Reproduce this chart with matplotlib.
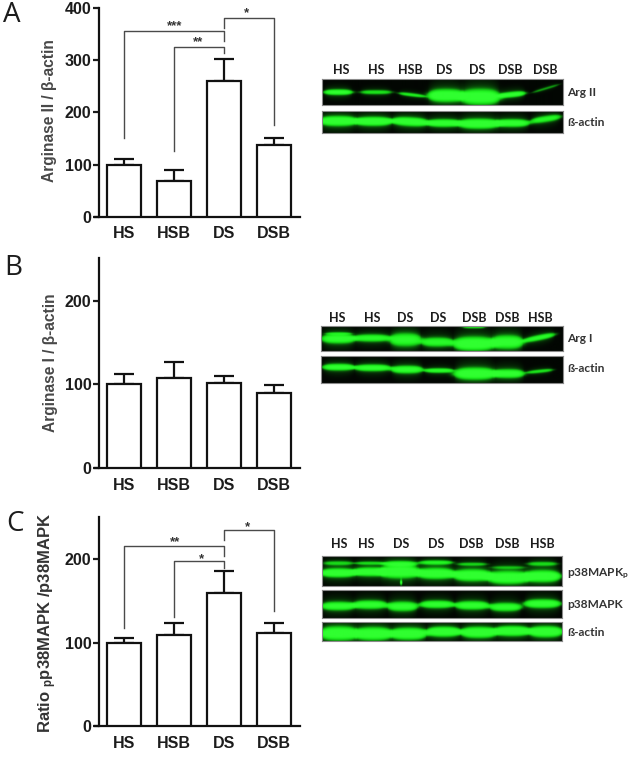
import numpy as np
import matplotlib
matplotlib.use("Agg")
import matplotlib.pyplot as plt
from matplotlib.colors import LinearSegmentedColormap

W, H = 630, 781
plt.rcParams['font.family'] = ['Liberation Sans', 'DejaVu Sans']
plt.rcParams['mathtext.default'] = 'regular'

# ---- bar data ----
groups = ['HS', 'HSB', 'DS', 'DSB']
a_means = [100, 68, 260, 138]
a_tops = [110, 89, 303, 151]
b_means = [100, 107, 102, 90]
b_tops = [112, 127, 110, 99]
c_means = [100, 109, 159, 111]
c_tops = [106, 123, 186, 124]

# brackets: (x start, y start, y top, x end, y end)
a_brackets = [(0, 151, 355, 2, 337), (1, 125, 326, 2, 313), (2, 361, 380, 3, 176)]
c_brackets = [(0, 117, 216, 2, 204), (1, 131, 198, 2, 189), (2, 223, 235, 3, 138)]
# stars: (x, y, text)
a_stars = [(1.02, 365, '***'), (1.48, 335, '**'), (2.44, 390, '*')]
c_stars = [(1.02, 221, '**'), (1.54, 200, '*'), (2.46, 238, '*')]

# ---- blot data: lane centre, half width, y, thickness, intensity, tilt (crop units) ----
a_arg2 = [(70,38,126,6,.85,0),(183,42,126,5,.55,0),(290,35,134,4,.6,.12),(392,48,136,13,1,0),
          (495,52,140,16,1,0),(590,35,133,6,.85,-.1),(690,35,115,3,.35,-.3)]
a_actin = [(70,50,212,10,1,0),(175,50,213,9,1,0),(285,48,214,9,.95,.05),(385,45,218,8,.9,0),
           (490,55,220,10,1,0),(590,45,218,8,.9,0),(690,40,206,7,.7,-.15)]
b_arg1 = [(70,45,115,10,.85,0),(70,35,100,3,.35,0),(170,48,113,8,.75,0),(270,42,118,14,.8,0),
          (365,42,125,10,.75,0),(475,55,130,14,1,0),(475,30,82,2,.5,0),(575,42,125,14,.9,0),(670,42,112,6,.75,-.2)]
b_actin = [(70,42,203,7,.85,0),(172,48,205,7,.85,0),(275,42,210,8,.85,0),(370,38,213,5,.75,0),
           (478,55,222,12,1,0),(578,42,222,9,.9,0),(672,35,215,4,.55,-.1)]
c_p38p = [(70,48,143,9,1,0),(165,45,140,9,.95,0),(255,52,140,13,1,0),(362,50,145,11,1,0),
          (470,50,150,12,1,0),(578,55,157,13,1,0),(680,48,153,12,1,0),
          (70,40,114,5,.45,0),(165,40,114,4,.45,0),(255,45,116,6,.65,0),(362,45,112,5,.6,0),
          (470,40,117,4,.4,0),(578,45,127,4,.3,0),(680,40,116,5,.45,0),(258,3,172,5,.7,0)]
c_p38 = [(70,45,242,9,.85,0),(165,45,238,9,.85,0),(262,40,243,10,.85,0),(365,45,237,8,.85,0),
         (470,45,240,9,.85,0),(570,42,245,9,.8,0),(680,48,235,9,.9,0)]
c_actin = [(72,50,325,14,1,0),(175,50,326,13,1,0),(280,48,326,12,1,0),(385,45,320,10,1,0),
           (490,48,322,11,1,0),(590,48,318,10,1,0),(690,45,320,11,1,0)]

a_lanes = ['HS', 'HS', 'HSB', 'DS', 'DS', 'DSB', 'DSB']
b_lanes = ['HS', 'HS', 'DS', 'DS', 'DSB', 'DSB', 'HSB']
c_lanes = ['HS', 'HS', 'DS', 'DS', 'DSB', 'DSB', 'HSB']

fig = plt.figure(figsize=(W / 100, H / 100), dpi=100, facecolor='white')
TC = '#1c1c1c'


def rect(x0, y0, x1, y1):
    return [x0 / W, 1 - y1 / H, (x1 - x0) / W, (y1 - y0) / H]


def ftext(x, y, s, **kw):
    kw.setdefault('ha', 'center')
    kw.setdefault('va', 'center')
    kw.setdefault('color', TC)
    fig.text(x / W, 1 - y / H, s, **kw)


def panel(box, ylim, yticks, means, tops, brackets=(), stars=()):
    ax = fig.add_axes(rect(*box))
    ax.patch.set_alpha(0)
    xs = np.arange(len(groups))
    ax.set_xlim(-0.5, 3.52)
    ax.set_ylim(0, ylim)
    ax.bar(xs, means, width=0.67, facecolor='white', edgecolor='#111111', linewidth=1.6, zorder=3)
    err = np.array(tops) - np.array(means)
    ax.errorbar(xs, means, yerr=[np.zeros(4), err], fmt='none', ecolor='#111111',
                elinewidth=1.6, capsize=7, capthick=1.6, zorder=2)
    for x0, y0, yt, x1, y1 in brackets:
        ax.plot([x0, x0, x1, x1], [y0, yt, yt, y1], color='#4a4a4a', lw=1.0, clip_on=False, zorder=1)
    for x, y, s in stars:
        ax.text(x, y, s, ha='center', va='center', fontsize=9.5, fontweight='bold', color='#333333')
    for s in ('top', 'right'):
        ax.spines[s].set_visible(False)
    for s in ('left', 'bottom'):
        ax.spines[s].set_linewidth(1.6)
        ax.spines[s].set_color('#111111')
    ax.spines['bottom'].set_bounds(-0.58, 3.52)
    ax.set_yticks(yticks)
    ax.tick_params(axis='y', length=4, width=1.6, pad=1.5, labelsize=11.5, colors=TC)
    ax.set_xticks(xs)
    ax.set_xticklabels(groups)
    ax.tick_params(axis='x', length=0, pad=7, labelsize=11.5, colors=TC)
    for l in ax.get_xticklabels() + ax.get_yticklabels():
        l.set_fontweight('bold')
    return ax


panel((99, 8, 300, 216.7), 400, [0, 100, 200, 300, 400], a_means, a_tops, a_brackets, a_stars)
panel((99, 258, 300, 468), 251, [0, 100, 200], b_means, b_tops)
panel((99, 516.7, 300, 726), 251, [0, 100, 200], c_means, c_tops, c_brackets, c_stars)

ftext(50, 111, 'Arginase II / β-actin', rotation=90, fontsize=11.2, fontweight='bold', color='#484848')
ftext(51, 362.5, 'Arginase I / β-actin', rotation=90, fontsize=11.2, fontweight='bold', color='#484848')
ftext(48, 622.5, 'Ratio $_{p}$p38MAPK /p38MAPK', rotation=90, fontsize=12, fontweight='bold', color='#333333')

for x, y, s in [(12, 15, 'A'), (13, 268, 'B'), (15, 524, 'C')]:
    ftext(x, y, s, fontsize=20, family=['Open Sans', 'DejaVu Sans'])

cmap = LinearSegmentedColormap.from_list('blot', ['#020602', '#0a5a0a', '#14c814', '#22f522', '#30ff30'])


def blot(origin, x0, y0, x1, y1, bands):
    """x0..y1 are crop units (3x the pixel scale) relative to origin."""
    xx, yy = np.meshgrid(np.arange(x0, x1), np.arange(y0, y1))
    img = np.zeros_like(xx, dtype=float)
    for xc, hw, yc, t, amp, tilt in bands:
        u = (xx - xc) / (hw * 1.12)
        edge = np.clip(1 - u ** 2, 0, 1) ** 0.5
        th = t * (0.55 + 0.45 * edge) * 1.3
        d = (yy - yc - tilt * (xx - xc)) / th
        lateral = np.exp(-np.abs(u) ** 5 * 0.8)
        img += amp * lateral * (np.exp(-np.abs(d) ** 2.2) + 0.2 * np.exp(-(d / 2.4) ** 2))
    img = np.clip(img, 0, 1)
    ax = fig.add_axes(rect(origin[0] + x0 / 3, origin[1] + y0 / 3, origin[0] + x1 / 3, origin[1] + y1 / 3))
    ax.imshow(img, cmap=cmap, vmin=0, vmax=1, aspect='auto', interpolation='bilinear')
    ax.set_xticks([])
    ax.set_yticks([])
    for s in ax.spines.values():
        s.set_color('#8a8a8a')
        s.set_linewidth(0.8)


blot((315, 50), 22, 87, 745, 165, a_arg2)
blot((315, 50), 22, 183, 745, 248, a_actin)
blot((315, 300), 18, 78, 745, 152, b_arg1)
blot((315, 300), 18, 168, 745, 250, b_actin)
blot((315, 525), 22, 93, 742, 183, c_p38p)
blot((315, 525), 22, 195, 742, 278, c_p38)
blot((315, 525), 22, 292, 742, 348, c_actin)

BF = dict(family=['Lato', 'DejaVu Sans'], fontweight='bold', fontsize=9)
for lanes, xz, yp in [(a_lanes, [78, 183, 287, 388, 488, 587, 692], 70),
                      (b_lanes, [67, 172, 271, 369, 477, 577, 675], 318),
                      (c_lanes, [73, 153, 259, 364, 469, 577, 681], 544)]:
    for s, xv in zip(lanes, xz):
        ftext(315 + xv / 3, yp, s, **BF)

for y, s in [(92, 'Arg II'), (122, 'ß-actin'), (339, 'Arg I'), (369, 'ß-actin'),
             (574, 'p38MAPK$_{p}$'), (605, 'p38MAPK'), (632, 'ß-actin')]:
    ftext(567, y, s, ha='left', family=['Lato', 'DejaVu Sans'], fontweight='bold', fontsize=8.6, color='#333333')

fig.savefig('out.png', dpi=100, facecolor='white')
